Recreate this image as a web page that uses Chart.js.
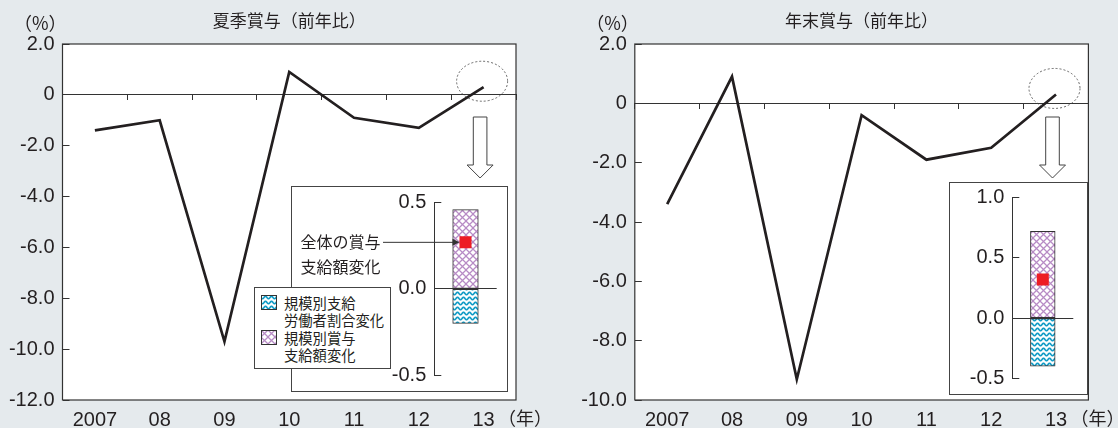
<!DOCTYPE html>
<html lang="ja">
<head>
<meta charset="utf-8">
<script src="https://cdn.jsdelivr.net/npm/chart.js@4.4.1/dist/chart.umd.min.js"></script>
<style>
  html, body { margin: 0; padding: 0; background: #e5eaed; }
  #wrap { position: relative; width: 1118px; height: 428px; overflow: hidden; }
  #wrap canvas { position: absolute; }
  #legend {
    position: absolute; left: 254px; top: 287px; width: 137px; height: 82px;
    box-sizing: border-box; border: 1px solid #444; background: #fff;
    font: 14.3px "Noto Sans CJK JP", sans-serif; color: #231f20;
  }
  #legend .item { position: absolute; left: 29px; line-height: 17.5px; white-space: nowrap; }
  #legend canvas { position: absolute; left: 6px; }
</style>
</head>
<body>
<div id="wrap">
  <canvas id="summer" width="559" height="428" style="left:0;top:0"></canvas>
  <canvas id="winter" width="559" height="428" style="left:559px;top:0"></canvas>
  <canvas id="summerBox" width="217" height="206" style="left:291px;top:186px"></canvas>
  <canvas id="winterBox" width="139" height="213" style="left:949px;top:182px"></canvas>
  <div id="legend"></div>
</div>
<script>
// 年次（前年比, %）
var years = ['2007', '08', '09', '10', '11', '12', '13'];
var summerBonus = [-1.4, -1.0, -9.7, 0.9, -0.9, -1.3, 0.3];
var winterBonus = [-3.4, 0.9, -9.3, -0.4, -1.9, -1.5, 0.3];

// 2013年の要因分解
var partNames = [['規模別支給', '労働者割合変化'], ['規模別賞与', '支給額変化']];
var summerParts = [-0.2, 0.46];
var winterParts = [-0.4, 0.72];
var summerTotal = 0.27;
var winterTotal = 0.32;
var totalNote = ['全体の賞与', '支給額変化'];

var INK = '#231f20';
var NUM_FONT = "'Liberation Sans', Arial, sans-serif";
var JP_FONT = "'Noto Sans CJK JP', sans-serif";

Chart.defaults.font.family = NUM_FONT;
Chart.defaults.color = INK;

// hatch fills
function latticePattern() {
    var c = document.createElement('canvas');
    c.width = 7; c.height = 7;
    var g = c.getContext('2d');
    g.fillStyle = '#fff';
    g.fillRect(0, 0, 7, 7);
    g.strokeStyle = '#b78bc5';
    g.lineWidth = 1.25;
    g.beginPath();
    g.moveTo(-1, -1); g.lineTo(8, 8);
    g.moveTo(8, -1); g.lineTo(-1, 8);
    g.stroke();
    return g.createPattern(c, 'repeat');
}
function wavePattern() {
    var c = document.createElement('canvas');
    c.width = 6; c.height = 5;
    var g = c.getContext('2d');
    g.fillStyle = '#fff';
    g.fillRect(0, 0, 6, 5);
    g.strokeStyle = '#129cc6';
    g.lineWidth = 1.7;
    g.beginPath();
    for (var x = -1; x <= 7; x += 0.25) {
        var y = 2.5 + 1.2 * Math.sin(x / 6 * 2 * Math.PI);
        if (x === -1) g.moveTo(x, y); else g.lineTo(x, y);
    }
    g.stroke();
    return g.createPattern(c, 'repeat');
}
var wave = wavePattern();
var lattice = latticePattern();
var fills = [wave, lattice];

// fixed axis width, and no extra room kept for the end labels
function fixWidth(w) {
    return function(s) {
        s.width = w;
        s.paddingTop = 0;
        s.paddingBottom = 0;
    };
}

// white plot area, frame, titles, circle + arrow on the last year
var panelDecor = {
    id: 'decor',
    beforeDraw: function(chart) {
        var a = chart.chartArea, ctx = chart.ctx;
        ctx.save();
        ctx.fillStyle = '#fff';
        ctx.fillRect(a.left, a.top, a.right - a.left, a.bottom - a.top);
        ctx.restore();
    },
    afterDraw: function(chart, args, o) {
        var a = chart.chartArea, ctx = chart.ctx;
        ctx.save();
        ctx.strokeStyle = '#333';
        ctx.lineWidth = 1.2;
        ctx.strokeRect(a.left, a.top, a.right - a.left, a.bottom - a.top);

        ctx.fillStyle = INK;
        ctx.font = '17px ' + JP_FONT;
        ctx.textBaseline = 'middle';
        ctx.textAlign = 'center';
        ctx.fillText(o.title, (a.left + a.right) / 2, 21);
        ctx.font = '18px ' + JP_FONT;
        ctx.textAlign = 'right';
        ctx.fillText('（%）', a.left + 4, 23);
        ctx.textAlign = 'left';
        ctx.fillText('（年）', a.right - 18, 418);

        var pts = chart.getDatasetMeta(0).data;
        var last = pts[pts.length - 1];
        ctx.strokeStyle = '#444';
        ctx.lineWidth = 0.8;
        ctx.setLineDash([2, 2]);
        ctx.beginPath();
        ctx.ellipse(last.x - 1.5, last.y - 6, 25.5, 20, 0, 0, Math.PI * 2);
        ctx.stroke();
        ctx.setLineDash([]);

        var cx = last.x - 3.5;
        ctx.beginPath();
        ctx.moveTo(cx - 6.8, 117);
        ctx.lineTo(cx + 6.8, 117);
        ctx.lineTo(cx + 6.8, 165);
        ctx.lineTo(cx + 13, 165);
        ctx.lineTo(cx, 178);
        ctx.lineTo(cx - 13, 165);
        ctx.lineTo(cx - 6.8, 165);
        ctx.closePath();
        ctx.fillStyle = '#fff';
        ctx.fill();
        ctx.lineWidth = 1;
        ctx.stroke();
        ctx.restore();
    }
};

function lineChart(id, values, yMin, yWidth, padRight, title) {
    return new Chart(document.getElementById(id), {
        type: 'line',
        data: {
            labels: years,
            datasets: [{
                data: values,
                xAxisID: 'x',
                borderColor: INK,
                borderWidth: 2.7,
                borderJoinStyle: 'miter',
                pointRadius: 0,
                tension: 0,
                fill: false
            }]
        },
        options: {
            responsive: false,
            animation: false,
            events: [],
            layout: { padding: { top: 44, right: padRight, left: 0, bottom: 0 } },
            plugins: {
                legend: { display: false },
                tooltip: { enabled: false },
                decor: { title: title }
            },
            scales: {
                x: {
                    type: 'category',
                    offset: true,
                    grid: { display: false, drawTicks: false },
                    border: { display: false },
                    ticks: { padding: 8, maxRotation: 0, autoSkip: false, font: { size: 20 } },
                    afterFit: function(s) { s.height = 28; }
                },
                zero: {
                    axis: 'x',
                    type: 'category',
                    position: { y: 0 },
                    offset: true,
                    grid: { offset: true, drawOnChartArea: false, drawTicks: true, tickLength: 5, tickColor: '#333', tickWidth: 1 },
                    border: { display: true, color: '#333', width: 1 },
                    ticks: { display: false }
                },
                y: {
                    min: yMin,
                    max: 2,
                    ticks: {
                        stepSize: 2,
                        padding: 15,
                        font: { size: 20 },
                        callback: function(v) { return v === 0 ? '0' : v.toFixed(1); }
                    },
                    grid: { drawOnChartArea: false, drawTicks: true, tickLength: -7, tickColor: '#333' },
                    border: { display: false },
                    afterFit: fixWidth(yWidth)
                }
            }
        },
        plugins: [panelDecor]
    });
}

// box around the small chart, and the note pointing at the total
var insetDecor = {
    id: 'insetDecor',
    beforeDraw: function(chart) {
        var ctx = chart.ctx;
        ctx.save();
        ctx.fillStyle = '#fff';
        ctx.fillRect(0, 0, chart.width, chart.height);
        ctx.restore();
    },
    afterDraw: function(chart, args, o) {
        var ctx = chart.ctx;
        ctx.save();
        ctx.strokeStyle = '#444';
        ctx.lineWidth = 1;
        ctx.strokeRect(0.5, 0.5, chart.width - 1, chart.height - 1);
        if (o.note) {
            var p = chart.getDatasetMeta(2).data[0];
            ctx.fillStyle = INK;
            ctx.font = '16px ' + JP_FONT;
            ctx.textBaseline = 'middle';
            ctx.textAlign = 'left';
            ctx.fillText(o.note[0], 9.5, p.y);
            ctx.fillText(o.note[1], 9.5, p.y + 25);
            var tip = p.x - 6;
            ctx.strokeStyle = '#333';
            ctx.beginPath();
            ctx.moveTo(92, p.y);
            ctx.lineTo(tip - 5, p.y);
            ctx.stroke();
            ctx.fillStyle = '#333';
            ctx.beginPath();
            ctx.moveTo(tip, p.y);
            ctx.lineTo(tip - 7, p.y - 3.5);
            ctx.lineTo(tip - 7, p.y + 3.5);
            ctx.closePath();
            ctx.fill();
        }
        ctx.restore();
    }
};

function insetChart(id, parts, total, yMin, yMax, yWidth, pad, barW, note) {
    return new Chart(document.getElementById(id), {
        type: 'bar',
        data: {
            labels: ['13'],
            datasets: [
                { label: partNames[0].join(''), data: [parts[0]], backgroundColor: fills[0], borderColor: '#333', borderWidth: 1, borderSkipped: false, barThickness: barW, stack: 'parts', order: 1 },
                { label: partNames[1].join(''), data: [parts[1]], backgroundColor: fills[1], borderColor: '#333', borderWidth: 1, borderSkipped: false, barThickness: barW, stack: 'parts', order: 1 },
                { type: 'line', label: 'total', data: [total], showLine: false, pointStyle: 'rect', pointRadius: 8.5, pointBorderWidth: 0, pointBackgroundColor: '#ed1c24', backgroundColor: '#ed1c24', borderColor: '#ed1c24', stack: 'total', order: 0 }
            ]
        },
        options: {
            responsive: false,
            animation: false,
            events: [],
            layout: { padding: pad, autoPadding: false },
            plugins: {
                legend: { display: false },
                tooltip: { enabled: false },
                insetDecor: { note: note }
            },
            scales: {
                x: { display: false, stacked: true, offset: true },
                y: {
                    stacked: true,
                    min: yMin,
                    max: yMax,
                    ticks: {
                        stepSize: 0.5,
                        padding: 15,
                        font: { size: 20 },
                        callback: function(v) { return v.toFixed(1); }
                    },
                    grid: {
                        drawTicks: true,
                        tickLength: -7,
                        tickColor: '#333',
                        color: function(c) { return c.tick && c.tick.value === 0 ? '#333' : 'rgba(0,0,0,0)'; }
                    },
                    border: { display: true, color: '#333', width: 1 },
                    afterFit: fixWidth(yWidth)
                }
            }
        },
        plugins: [insetDecor]
    });
}

lineChart('summer', summerBonus, -12, 62.5, 43, '夏季賞与（前年比）');
lineChart('winter', winterBonus, -10, 75.8, 29.6, '年末賞与（前年比）');
insetChart('summerBox', summerParts, summerTotal, -0.5, 0.5, 143.3, { top: 16.7, right: 11.3, bottom: 17, left: 0 }, 25.6, totalNote);
insetChart('winterBox', winterParts, winterTotal, -0.5, 1.0, 63.3, { top: 15.7, right: 14.7, bottom: 16.7, left: 0 }, 24.7, null);

// legend box with hatch swatches
var legend = document.getElementById('legend');
partNames.forEach(function(lines, i) {
    var top = i === 0 ? 5.8 : 40.8;
    var sw = document.createElement('canvas');
    sw.width = 16; sw.height = 15;
    sw.style.top = (top + 1.3) + 'px';
    var g = sw.getContext('2d');
    g.fillStyle = fills[i];
    g.fillRect(0, 0, 16, 15);
    g.strokeStyle = '#333';
    g.strokeRect(0.5, 0.5, 15, 14);
    legend.appendChild(sw);
    var t = document.createElement('div');
    t.className = 'item';
    t.style.top = top + 'px';
    t.innerHTML = lines.join('<br>');
    legend.appendChild(t);
});
</script>
</body>
</html>
